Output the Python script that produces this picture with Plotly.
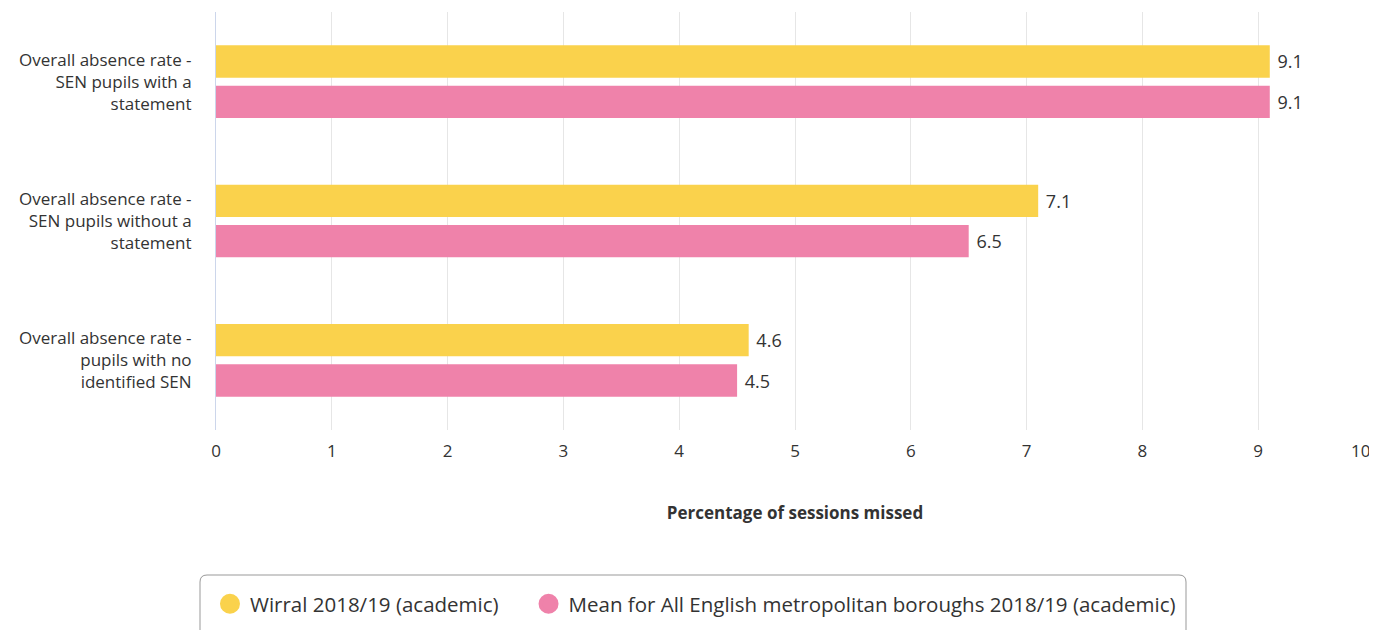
import plotly.graph_objects as go

categories = [
    "Overall absence rate -<br>SEN pupils with a<br>statement",
    "Overall absence rate -<br>SEN pupils without a<br>statement",
    "Overall absence rate -<br>pupils with no<br>identified SEN",
]
series_names = ["Wirral 2018/19 (academic)", "Mean for All English metropolitan boroughs 2018/19 (academic)"]
wirral = [9.1, 7.1, 4.6]
mean_met = [9.1, 6.5, 4.5]
colors = ["#FAD24C", "#EF82AA"]
x_ticks = [0, 1, 2, 3, 4, 5, 6, 7, 8, 9, 10]
x_tick_labels = ["0", "1", "2", "3", "4", "5", "6", "7", "8", "9", "10"]

FONT = "Open Sans"
legends = ["legend", "legend2"]
fig = go.Figure()
for name, vals, col, lg in zip(series_names, [wirral, mean_met], colors, legends):
    fig.add_trace(go.Bar(
        y=categories, x=vals, orientation="h", name=name,
        marker=dict(color=col, line=dict(width=0)),
        text=vals, texttemplate="\u00a0%{x:.1f}", textposition="outside",
        textfont=dict(family=FONT, size=18, color="#333333"),
        cliponaxis=False, showlegend=False, hoverinfo="skip",
    ))
    fig.add_trace(go.Scatter(
        x=[None], y=[None], mode="markers", name=name, legend=lg,
        marker=dict(symbol="circle", size=16, color=col, line=dict(color=col, width=4)),
    ))

# page body has an 8px margin; the figure is offset to compensate
W, H = 1377, 630
ML, MR, MT, MB = 208, 11, 4, 208
ph = H - MT - MB
pw = W - ML - MR

legend_style = dict(
    orientation="h", xanchor="left", yanchor="middle", y=-0.416,
    font=dict(family=FONT, size=20.5, color="#333333"),
    itemsizing="trace", bgcolor="rgba(0,0,0,0)",
)
fig.update_layout(
    width=W, height=H,
    margin=dict(l=ML, r=MR, t=MT, b=MB, autoexpand=False),
    paper_bgcolor="white", plot_bgcolor="white",
    barmode="group", bargap=0.42, bargroupgap=0.2,
    font=dict(family=FONT, color="#333333"),
    showlegend=True,
    legend=dict(legend_style, x=-0.0052),
    legend2=dict(legend_style, x=0.2699),
)
# the last label is kept inside the chart edge (right-aligned), as in the reference
x_text = [t if t != "10" else t + "\u00a0" * 6 for t in x_tick_labels]
fig.update_xaxes(
    range=[0, 10], tickvals=x_ticks, ticktext=x_text, showgrid=True, gridcolor="#e6e6e6", gridwidth=1,
    zeroline=False, showline=False, ticklabeloverflow="allow",
    tickfont=dict(family=FONT, size=17, color="#333333"), ticklabelstandoff=9,
    title=dict(text="<b>Percentage of sessions missed</b>", font=dict(family=FONT, size=17, color="#333333"), standoff=46),
)
fig.update_yaxes(
    autorange="reversed", showgrid=False, showline=True, linecolor="#ccd6eb", linewidth=1,
    tickfont=dict(family=FONT, size=17, color="#333333"), ticklabelstandoff=20,
)
# rounded legend border box (paper coords)
def px(x):
    return (x - 216) / pw
def py(y):
    return (430 - y) / ph
x0, x1, y0, y1, r = 200, 1186, 575, 640, 7
path = (f"M {px(x0)} {py(y1)} L {px(x0)} {py(y0 + r)} Q {px(x0)} {py(y0)} {px(x0 + r)} {py(y0)} "
        f"L {px(x1 - r)} {py(y0)} Q {px(x1)} {py(y0)} {px(x1)} {py(y0 + r)} L {px(x1)} {py(y1)}")
fig.add_shape(type="path", path=path, xref="paper", yref="paper",
              line=dict(color="#999999", width=1))

fig.write_html("out.html")
